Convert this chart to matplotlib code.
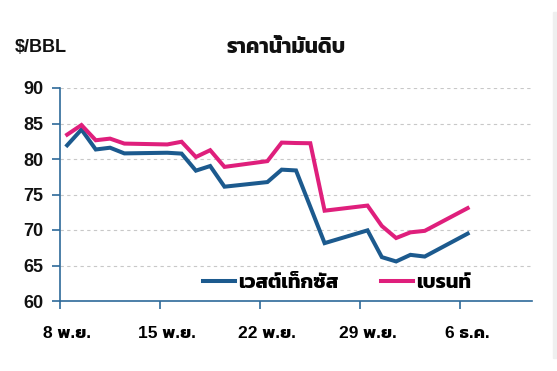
import pandas as pd
import matplotlib.pyplot as plt
from matplotlib.patches import Rectangle

FONTS = ["Liberation Sans", "Kanit", "Prompt", "Mitr", "DejaVu Sans"]
THAI = ["Kanit", "Prompt", "Mitr", "Liberation Sans", "DejaVu Sans"]

wti_dates = ["2021-11-08", "2021-11-09", "2021-11-10", "2021-11-11", "2021-11-12",
             "2021-11-15", "2021-11-16", "2021-11-17", "2021-11-18", "2021-11-19",
             "2021-11-22", "2021-11-23", "2021-11-24", "2021-11-26",
             "2021-11-29", "2021-11-30", "2021-12-01", "2021-12-02", "2021-12-03",
             "2021-12-06"]
wti = [81.93, 84.15, 81.34, 81.59, 80.79,
       80.88, 80.76, 78.36, 79.01, 76.10,
       76.75, 78.50, 78.39, 68.15,
       69.95, 66.18, 65.57, 66.50, 66.26,
       69.49]

brent_dates = ["2021-11-08", "2021-11-09", "2021-11-10", "2021-11-11", "2021-11-12",
               "2021-11-15", "2021-11-16", "2021-11-17", "2021-11-18", "2021-11-19",
               "2021-11-22", "2021-11-23", "2021-11-24", "2021-11-25", "2021-11-26",
               "2021-11-29", "2021-11-30", "2021-12-01", "2021-12-02", "2021-12-03",
               "2021-12-06"]
brent = [83.43, 84.78, 82.64, 82.87, 82.17,
         82.05, 82.43, 80.28, 81.24, 78.89,
         79.70, 82.31, 82.25, 82.22, 72.72,
         73.44, 70.57, 68.87, 69.67, 69.88,
         73.08]

tick_dates = ["2021-11-08", "2021-11-15", "2021-11-22", "2021-11-29", "2021-12-06"]
tick_labels = ["8 พ.ย.", "15 พ.ย.", "22 พ.ย.", "29 พ.ย.", "6 ธ.ค."]
yticks = [60, 65, 70, 75, 80, 85, 90]

BLUE = "#1c5a8e"
PINK = "#df1f7c"
AXIS = "#2e6a9a"

plt.rcParams["font.family"] = FONTS

fig = plt.figure(figsize=(5.57, 3.71), dpi=100)
# faint grey strip on the right edge of the original picture
fig.patches.append(Rectangle((553 / 557, 1 - 358 / 371), 4 / 557, 346 / 371,
                             transform=fig.transFigure, color="#efefef", zorder=0))

ax = fig.add_axes([60 / 557, 1 - 301 / 371, (532 - 60) / 557, (301 - 88) / 371])
ax.patch.set_alpha(0)

# points sit mid-day (category centre), tick marks at the start of the day
half = pd.Timedelta(hours=12)
ax.plot(pd.to_datetime(wti_dates) + half, wti, color=BLUE, lw=2.9,
        solid_joinstyle="miter", label="เวสต์เท็กซัส")
ax.plot(pd.to_datetime(brent_dates) + half, brent, color=PINK, lw=2.9,
        solid_joinstyle="miter", label="เบรนท์")

ax.set_ylim(60, 90)
ax.set_yticks(yticks)
ax.set_xlim(pd.Timestamp("2021-11-08"), pd.Timestamp("2021-12-11"))
ax.set_xticks(pd.to_datetime(tick_dates))
ax.set_xticklabels([])
ax.set_xticks(pd.to_datetime(tick_dates) + half, minor=True)
ax.set_xticklabels(tick_labels, minor=True)

for y in yticks[1:]:
    ax.axhline(y, color="#c8c8c8", lw=0.8, ls=(0, (3, 3)), zorder=0)

for s in ["top", "right"]:
    ax.spines[s].set_visible(False)
for s in ["left", "bottom"]:
    ax.spines[s].set_color(AXIS)
    ax.spines[s].set_linewidth(1.2)

ax.tick_params(axis="both", direction="out", length=6, width=1.2, color=AXIS,
               labelsize=13, labelcolor="#111111")
ax.tick_params(axis="x", which="minor", length=0, pad=18, labelsize=12.5)
ax.tick_params(axis="y", pad=6)
for lab in ax.get_xticklabels(minor=True) + ax.get_yticklabels():
    lab.set_fontweight("bold")

fig.text(15 / 557, 1 - 48 / 371, "$/BBL", fontsize=13, fontweight="bold",
         ha="left", va="center", color="#111111")
fig.text(286 / 557, 1 - 48 / 371, "ราคาน้ำมันดิบ", fontsize=15, fontweight="bold",
         ha="center", va="center", color="#111111", family=THAI)

leg = fig.legend(loc="center left", bbox_to_anchor=(203 / 557, 1 - 283 / 371), ncol=2,
                 frameon=False, handlelength=1.6, handletextpad=0.15,
                 columnspacing=2.1, borderaxespad=0, borderpad=0,
                 prop={"family": THAI, "size": 14.5, "weight": "bold"})

fig.savefig("out.png", dpi=100)
